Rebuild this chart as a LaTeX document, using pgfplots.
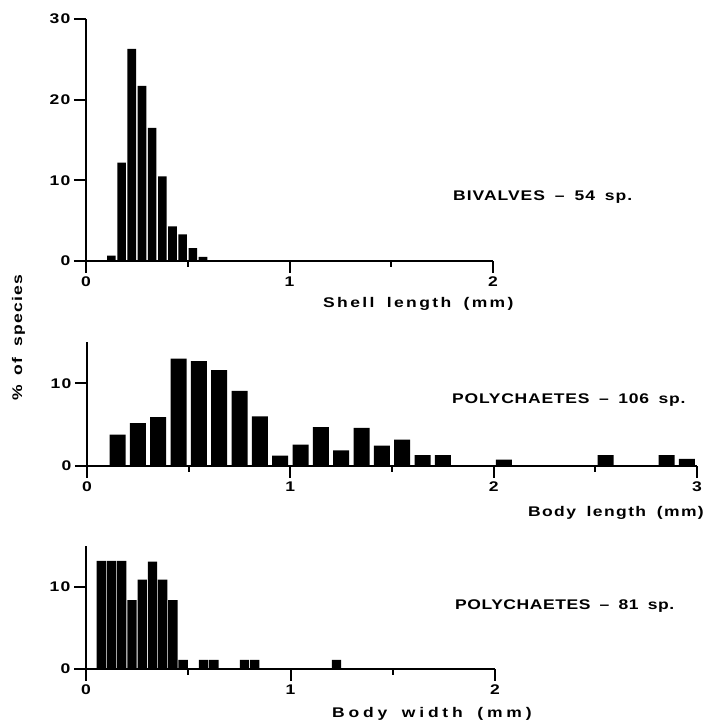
\documentclass[border=0pt]{standalone}
\usepackage{fontspec}
\setmainfont{Liberation Sans Bold}[FakeStretch=1.25, LetterSpace=9, WordSpace=1.7]
\usepackage{pgfplots}
\pgfplotsset{compat=1.18}
\pgfplotsset{
  histo/.style={
    scale only axis,
    axis lines*=left,
    axis line style={line width=2pt, black},
    tick style={line width=2pt, black},
    tick align=outside,
    major tick length=12pt,
    minor tick length=6pt,
    minor x tick num=1,
    ymin=0,
    ybar, bar shift=0pt,
    ticklabel style={font=\fontsize{14}{16}\selectfont},
    /pgf/number format/assume math mode=true,
    anchor=south west,
  }
}
\newcommand\ls[1]{\addfontfeatures{LetterSpace=#1}}
\begin{document}
\begin{tikzpicture}[x=1pt,y=1pt]
\path[use as bounding box] (0pt,0pt) rectangle (708pt,722pt);
% Bivalves
\begin{axis}[histo, at={(86pt,461pt)}, width=407pt, height=242pt,
  xmin=0, xmax=2, ymax=30, xtick={0,1,2}, ytick={0,10,20,30}, bar width=8.6pt]
\addplot[fill=black, draw=none] coordinates {
(0.125,0.65) (0.175,12.2) (0.225,26.3) (0.275,21.7) (0.325,16.5)
(0.375,10.5) (0.425,4.3) (0.475,3.3) (0.525,1.6) (0.575,0.5)};
\end{axis}
% Polychaetes body length
\begin{axis}[histo, at={(87pt,256pt)}, width=610pt, height=124pt,
  xmin=0, xmax=3, ymax=15, xtick={0,1,2,3}, ytick={0,10}, bar width=16pt]
\addplot[fill=black, draw=none] coordinates {
(0.15,3.8) (0.25,5.2) (0.35,5.9) (0.45,13.0) (0.55,12.7) (0.65,11.6)
(0.75,9.1) (0.85,6.0) (0.95,1.25) (1.05,2.6) (1.15,4.7) (1.25,1.9)
(1.35,4.6) (1.45,2.45) (1.55,3.2) (1.65,1.3) (1.75,1.3) (2.05,0.76)
(2.55,1.3) (2.85,1.3) (2.95,0.85)};
\end{axis}
% Polychaetes body width
\begin{axis}[histo, at={(86pt,53pt)}, width=409pt, height=123pt,
  xmin=0, xmax=2, ymax=15, xtick={0,1,2}, ytick={0,10}, bar width=9.4pt]
\addplot[fill=black, draw=none] coordinates {
(0.075,13.2) (0.125,13.2) (0.175,13.2) (0.225,8.4) (0.275,10.9)
(0.325,13.1) (0.375,10.9) (0.425,8.4) (0.475,1.1) (0.575,1.1)
(0.625,1.1) (0.775,1.1) (0.825,1.1) (1.225,1.1)};
\end{axis}
\tikzset{lab/.style={font=\fontsize{14}{16}\selectfont, inner sep=0pt}}
\node[lab, anchor=base west] at (453pt,521pt) {\ls{7}BIVALVES -- 54 sp.};
\node[lab, anchor=base west] at (452pt,318pt) {\ls{5.5}POLYCHAETES -- 106 sp.};
\node[lab, anchor=base west] at (455pt,112pt) {\ls{4}POLYCHAETES -- 81 sp.};
\node[lab, anchor=base west] at (323pt,414pt) {\ls{17}Shell length (mm)};
\node[lab, anchor=base east] at (704pt,205pt) {\ls{10}Body length (mm)};
\node[lab, anchor=base west] at (332pt,4.5pt) {\ls{27}Body width (mm)};
\node[lab, rotate=90, anchor=center] at (18.5pt,384pt) {\% of species};
\end{tikzpicture}
\end{document}
